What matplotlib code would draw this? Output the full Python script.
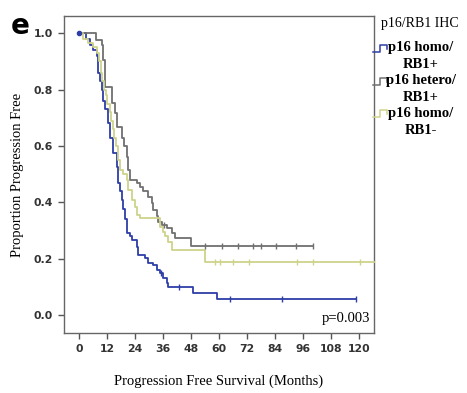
import numpy as np
import matplotlib.pyplot as plt
from matplotlib.lines import Line2D

# Kaplan-Meier curves: event times (months) and survival after each step
blue_t = [0, 3.0, 4.6, 6.0, 7.5, 8.1, 8.9, 9.6, 10.3, 11.0, 12.4, 13.2, 14.6, 16.0, 16.7,
          17.4, 18.2, 18.9, 19.6, 20.3, 21.7, 22.5, 24.6, 25.3, 28.2, 29.6, 31.7, 33.2,
          34.6, 36.0, 37.5, 38.1, 48.9, 58.9]
blue_s = [1.0, 0.98, 0.96, 0.94, 0.92, 0.86, 0.83, 0.80, 0.76, 0.73, 0.68, 0.63, 0.575,
          0.525, 0.47, 0.44, 0.41, 0.375, 0.34, 0.29, 0.28, 0.267, 0.243, 0.214, 0.202,
          0.184, 0.178, 0.161, 0.149, 0.131, 0.113, 0.101, 0.08, 0.058]
blue_end = 118.6
blue_cens = [35.0, 42.9, 64.6, 86.7, 118.6]

gray_t = [0, 7.4, 9.6, 10.3, 11.0, 13.9, 15.3, 16.0, 18.2, 19.0, 20.3, 21.0, 21.7, 24.6,
          26.0, 27.4, 29.6, 31.0, 31.7, 33.2, 33.9, 35.3, 37.5, 39.6, 41.0, 47.9]
gray_s = [1.0, 0.976, 0.958, 0.905, 0.81, 0.752, 0.716, 0.669, 0.63, 0.60, 0.56, 0.515,
          0.48, 0.468, 0.456, 0.44, 0.42, 0.397, 0.373, 0.35, 0.332, 0.32, 0.308, 0.291,
          0.273, 0.246]
gray_end = 100.3
gray_cens = [36.4, 53.9, 61.0, 68.1, 74.6, 77.7, 84.3, 92.9, 100.0]

yel_t = [0, 1.7, 4.0, 6.0, 7.5, 8.5, 9.2, 9.8, 10.5, 11.5, 12.0, 13.0, 13.6, 14.3, 15.0,
         15.8, 16.7, 17.4, 18.9, 20.3, 21.0, 22.5, 23.9, 24.6, 26.0, 34.6, 36.0, 36.7,
         38.1, 39.6, 53.9]
yel_s = [1.0, 0.98, 0.965, 0.95, 0.93, 0.90, 0.86, 0.83, 0.80, 0.78, 0.75, 0.72, 0.69,
         0.66, 0.63, 0.60, 0.55, 0.515, 0.50, 0.48, 0.445, 0.41, 0.385, 0.356, 0.344,
         0.314, 0.296, 0.279, 0.261, 0.232, 0.19]
yel_end = 126.3
yel_cens = [58.0, 60.3, 66.0, 72.9, 93.2, 100.0, 120.3]

labels = ['p16 homo/\nRB1+', 'p16 hetero/\nRB1+', 'p16 homo/\nRB1-']
colors = ['#2e3ea8', '#707070', '#cfd38a']
xticks = [0, 12, 24, 36, 48, 60, 72, 84, 96, 108, 120]
yticks = [0.0, 0.2, 0.4, 0.6, 0.8, 1.0]

serif = 'Liberation Serif'
W, H = 467, 393

fig = plt.figure(figsize=(4.67, 3.93), dpi=100)
ax = fig.add_axes([0.137, 0.153, 0.664, 0.806])

curves = [(blue_t, blue_s, blue_end, blue_cens),
          (gray_t, gray_s, gray_end, gray_cens),
          (yel_t, yel_s, yel_end, yel_cens)]
for (t, s, end, cens), c in zip(curves, colors):
    tt = list(t) + [end]
    ss = list(s) + [s[-1]]
    ax.step(tt, ss, where='post', color=c, lw=1.3, clip_on=False, zorder=3)
    idx = np.searchsorted(t, cens, side='right') - 1
    ax.plot(cens, np.array(s)[idx], ls='none', marker='|', ms=4, mew=1.0, color=c, zorder=4)

ax.plot([blue_t[0]], [blue_s[0]], marker='o', ms=3, color=colors[0], zorder=5)

ax.set_xlim(-6.5, 126.3)
ax.set_ylim(-0.063, 1.061)
ax.set_xticks(xticks)
ax.set_yticks(yticks)
ax.set_yticklabels(['%.1f' % v for v in yticks])
ax.tick_params(direction='out', length=4, width=1, color='#555555', labelsize=7.8, pad=4)
for lab in ax.get_xticklabels() + ax.get_yticklabels():
    lab.set_fontweight('bold')
    lab.set_color('#333333')
for sp in ax.spines.values():
    sp.set_color('#666666')
    sp.set_linewidth(1.0)

ax.set_xlabel('Progression Free Survival (Months)', family=serif, fontsize=10.5, labelpad=15)
ax.set_ylabel('Proportion Progression Free', family=serif, fontsize=10.5, labelpad=7)
ax.text(124.8, -0.012, 'p=0.003', family=serif, fontsize=10.5, ha='right', va='center')

# legend to the right of the plot, laid out by hand (pixel positions)
fig.text(420 / W, 1 - 24 / H, 'p16/RB1 IHC', family=serif, fontsize=10,
         ha='center', va='center')
for i, (lab, c) in enumerate(zip(labels, colors)):
    ytop = 48 + i * 32.5
    fig.text(421 / W, 1 - (ytop + 8.5) / H, lab, family=serif, fontsize=10.5,
             fontweight='bold', ha='center', va='center', multialignment='center',
             linespacing=1.4)
    ix = np.array([373, 380, 380, 387, 387]) / W
    iy = 1 - (ytop + np.array([4, 4, -3, -3, 1])) / H
    fig.add_artist(Line2D(ix, iy, color=c, lw=1.1, transform=fig.transFigure))

fig.text(0.022, 0.97, 'e', fontsize=20, fontweight='bold', va='top')

fig.savefig('out.png', dpi=100)
